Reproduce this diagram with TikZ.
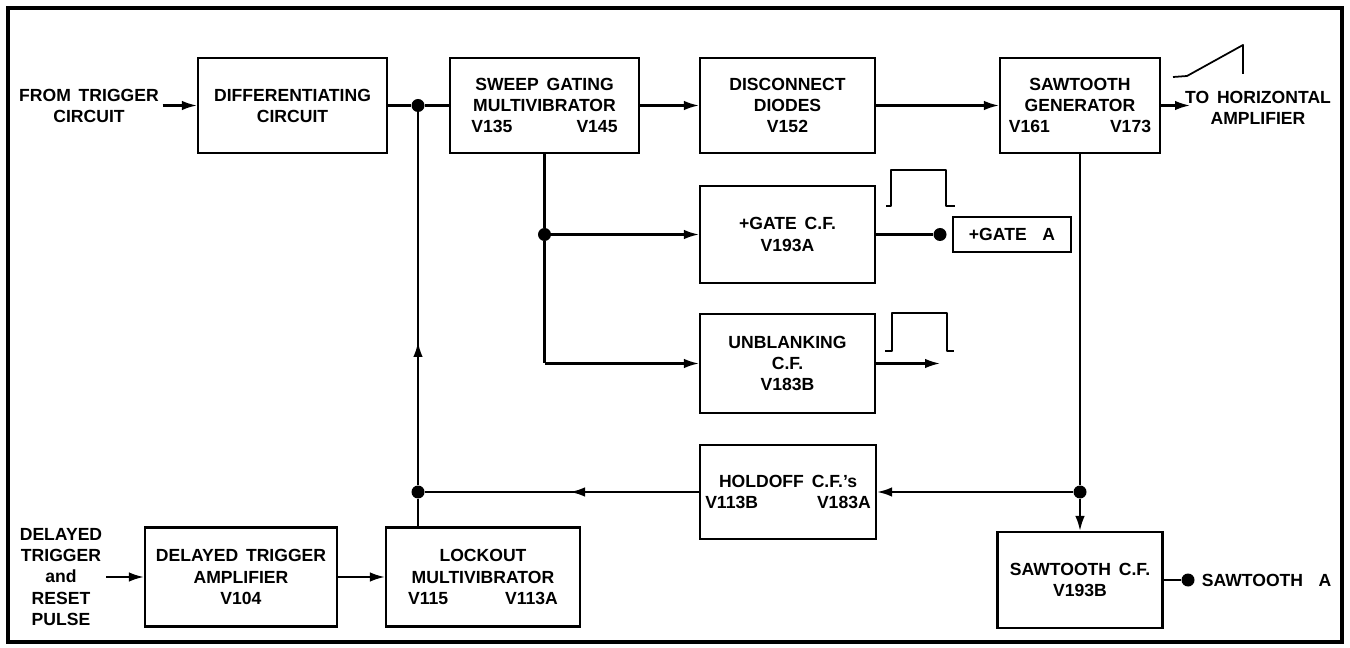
\documentclass[tikz,border=0pt]{standalone}
\usepackage{fontspec}
\setmainfont{Liberation Sans}[WordSpace=1.6]
\usepackage{tikz}
\usetikzlibrary{arrows.meta,positioning,calc}
\tikzset{
  >={Latex[length=3mm,width=1.9mm]},
  wire/.style={line width=1.2pt,draw=black},
  flow/.style={wire,->},
  box/.style={draw=black,line width=1.2pt,align=center,inner sep=2pt,
    minimum width=35mm,minimum height=19mm,font=\bfseries},
  tag/.style={align=center,inner sep=2pt,font=\bfseries},
  junction/.style={circle,fill=black,inner sep=0pt,minimum size=2.6mm},
  pulse/.style={line width=1pt,line join=round}
}

\begin{document}
\begin{tikzpicture}[x=0.2mm,y=-0.2mm]
  \useasboundingbox (0,0) rectangle (1350,648);
  \draw[line width=2pt] (8,8) rectangle (1342,642);

  % top row
  \node[tag] (ftin) at (89,105.5) {FROM TRIGGER\\CIRCUIT};
  \node[box,minimum width=37.8mm] (diff) at (292.5,105.5) {DIFFERENTIATING\\CIRCUIT};
  \node[box,minimum width=37.8mm] (sweep) at (544.5,105.5) {SWEEP GATING\\MULTIVIBRATOR\\V135\hspace{1.28cm}V145};
  \node[box] (disc) at (787.5,105.5) {DISCONNECT\\DIODES\\V152};
  \node[box,minimum width=32mm] (sawgen) at (1080,105.5) {SAWTOOTH\\GENERATOR\\V161\hspace{1.2cm}V173};
  \node[tag] (horiz) at (1258,108) {TO HORIZONTAL\\AMPLIFIER};
  \coordinate (hout) at (1190,105.5);
  \node[junction] (topdot) at (418,105.5) {};

  % middle column
  \node[box,minimum height=19.4mm] (gate) at (787.5,234.5) {+GATE C.F.\\V193A};
  \node[junction] (gdot) at (544.5,234.5) {};
  \node[junction] (gadot) at (940,234.5) {};
  \node[box,minimum width=23.6mm,minimum height=7mm] (gateA) at (1012,234.5) {+GATE~~A};
  \node[box,minimum height=19.8mm] (unbl) at (787.5,363.5) {UNBLANKING\\C.F.\\V183B};
  \coordinate (ucorner) at (544.5,363.5);
  \coordinate (uout) at (940,363.5);
  \node[box,minimum width=35.2mm,minimum height=18.8mm] (hold) at (788,492) {HOLDOFF C.F.'s\\V113B\hspace{1.18cm}V183A};
  \coordinate (harr) at (570,492);
  \node[junction] (sdot) at (1080,492) {};
  \node[junction] (lockdot) at (418,492) {};
  \coordinate (fbtip) at (418,342);

  % bottom row
  \node[tag] (dtin) at (61,577) {DELAYED\\TRIGGER\\and\\RESET\\PULSE};
  \node[box,minimum width=38.4mm,minimum height=19.8mm] (dta) at (241,577) {DELAYED TRIGGER\\AMPLIFIER\\V104};
  \node[box,minimum width=38.8mm,minimum height=19.8mm] (lock) at (483,577) {LOCKOUT\\MULTIVIBRATOR\\V115\hspace{1.14cm}V113A};
  \node[box,minimum width=33mm,minimum height=19.2mm] (scf) at (1080,580) {SAWTOOTH C.F.\\V193B};
  \node[junction] (sadot) at (1188,580) {};
  \node[tag,anchor=west] (sawA) at (1198,580) {SAWTOOTH~~A};

  % connections
  \draw[flow] (ftin) -- (diff);
  \draw[wire] (diff) -- (topdot) -- (sweep);
  \draw[flow] (sweep) -- (disc);
  \draw[flow] (disc) -- (sawgen);
  \draw[flow] (sawgen) -- (hout);
  \draw[wire] (sweep) -- (gdot) -- (ucorner);
  \draw[flow] (gdot) -- (gate);
  \draw[flow] (ucorner) -- (unbl);
  \draw[wire] (gate) -- (gadot);
  \draw[flow] (unbl) -- (uout);
  \draw[wire] (sawgen) -- (sdot);
  \draw[flow] (sdot) -- (scf);
  \draw[flow] (sdot) -- (hold);
  \draw[wire] (hold) -- (lockdot);
  \draw[flow] (hold) -- (harr);
  \draw[flow] (dtin) -- (dta);
  \draw[flow] (dta) -- (lock);
  \draw[wire] (lock.north -| lockdot) -- (lockdot);
  \draw[wire] (lockdot) -- (topdot);
  \draw[flow] (lockdot) -- (fbtip);
  \draw[wire] (scf) -- (sadot);

  % waveforms
  \draw[pulse] (1173,77) -- (1187,76) -- (1243,45) -- (1243,74);
  \draw[pulse] (886,206) -- (891,206) -- (891,170) -- (946,170) -- (946,206) -- (955,206);
  \draw[pulse] (885,351) -- (892,351) -- (892,313) -- (947,313) -- (947,351) -- (954,351);
\end{tikzpicture}
\end{document}
